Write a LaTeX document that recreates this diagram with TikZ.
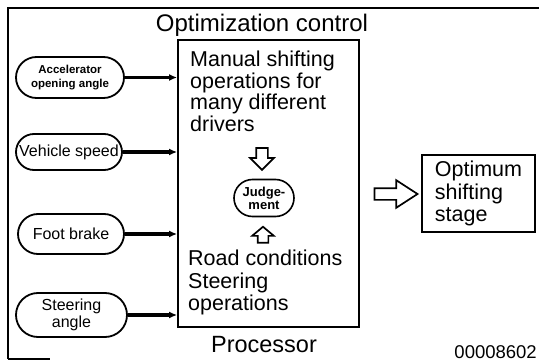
\documentclass[tikz,border=0pt]{standalone}
\usepackage{fontspec}
\setmainfont{Liberation Sans}
\usetikzlibrary{positioning,arrows.meta,shapes.misc,shapes.arrows}

\begin{document}
\begin{tikzpicture}[x=1pt,y=-1pt,
  inbox/.style={draw,rounded rectangle,line width=1.8pt,inner sep=1pt,align=center,font=\fontsize{16}{17}\selectfont},
  feed/.style={-{Latex[length=8pt,width=7pt]},line width=3.2pt},
  bigtext/.style={inner sep=0pt,align=left,font=\fontsize{21.5}{21.5}\selectfont},
  hollow/.style={draw,single arrow,line width=1.7pt,fill=white}]
\useasboundingbox (0,0) rectangle (539,361);
\draw[line width=1.3pt] (8,359) -- (8,8) -- (539,8);\draw[line width=1.3pt] (8,359) -- (50,359);
\node[draw,line width=1.8pt,minimum width=181pt,minimum height=287pt,inner sep=0pt] (proc) at (268.5,183.5) {};
\node[anchor=base,inner sep=0pt,font=\fontsize{24}{24}\selectfont] (title) at (262,32) {Optimization control};
\node[anchor=base,inner sep=0pt,font=\fontsize{23.5}{24}\selectfont] (proclbl) at (264,352) {Processor};
\node[anchor=base east,inner sep=0pt,font=\fontsize{18.5}{19}\selectfont] (figno) at (537,358) {00008602};
% sensor inputs
\node[inbox,minimum width=110pt,minimum height=41pt,font=\bfseries\fontsize{11.5}{14}\selectfont] (accel) at (70,77.5) {Accelerator\\opening angle};
\node[inbox,minimum width=108pt,minimum height=36pt] (speed) at (69,152) {Vehicle speed};
\node[inbox,minimum width=108pt,minimum height=40pt] (brake) at (71,234) {Foot brake};
\node[inbox,minimum width=113pt,minimum height=44pt] (steer) at (71.5,315) {Steering\\angle};
\draw[feed] (accel.east) -- (accel.east -| proc.west);\draw[feed] (speed.east) -- (speed.east -| proc.west);\draw[feed] (brake.east) -- (brake.east -| proc.west);\draw[feed] (steer.east) -- (steer.east -| proc.west);
% processor contents
\node[bigtext,anchor=north west] (drv) at (190,51) {Manual shifting\\operations for\\many different\\drivers};
\node[bigtext,anchor=north west,font=\fontsize{21.5}{22.5}\selectfont] (road) at (188,250) {Road conditions\\Steering\\operations};
\node[draw,rounded rectangle,line width=1.6pt,minimum width=62pt,minimum height=37pt,inner sep=1pt,align=center,font=\bfseries\fontsize{13}{13}\selectfont] (judge) at (264,198) {Judge-\\ment};
\node[hollow,rotate=-90,inner sep=5pt,minimum height=22pt,minimum width=22pt,single arrow head extend=6pt] (dnArr) at (262,156) {};
\node[hollow,rotate=90,inner sep=4.5pt,minimum height=16pt,minimum width=20pt,single arrow head extend=5.5pt,single arrow tip angle=100] (upArr) at (263,237) {};
% result
\node[draw,line width=1.6pt,minimum width=113pt,minimum height=77pt,inner sep=0pt,align=left,font=\fontsize{21.5}{22.5}\selectfont] (opt) at (478.5,193.5) {Optimum\\shifting\\stage};
\node[hollow,inner sep=5pt,minimum height=43pt,minimum width=26pt,single arrow head extend=8pt,single arrow tip angle=66] (outArr) at (391.5,194) {};
\end{tikzpicture}
\end{document}
